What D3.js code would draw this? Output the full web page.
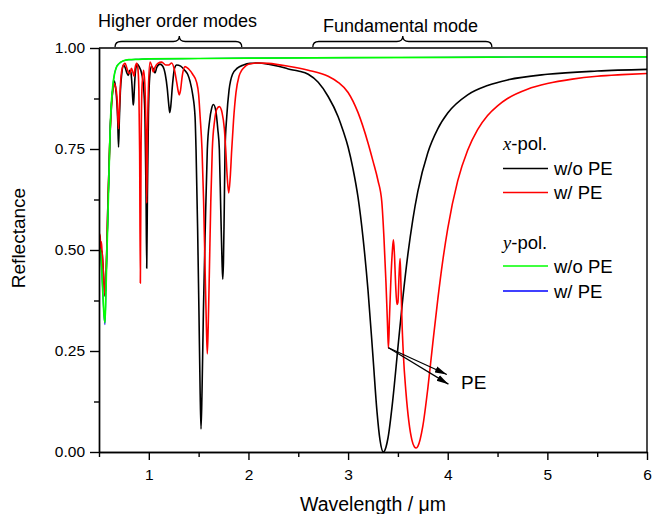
<!DOCTYPE html>
<html><head><meta charset="utf-8">
<script src="https://cdn.jsdelivr.net/npm/d3@7"></script>
<style>body{margin:0;background:#fff}svg{display:block;font-family:"Liberation Sans",Arial,sans-serif}</style>
</head><body><svg id="c" width="653" height="514"></svg>
<script>
// ---- data: [wavelength (um), reflectance] ----
const xPolWoPE = [[0.500,0.505],[0.510,0.515],[0.520,0.500],[0.530,0.495],[0.545,0.440],[0.560,0.385],[0.570,0.430],[0.580,0.520],[0.590,0.620],[0.600,0.700],[0.610,0.780],[0.620,0.835],[0.632,0.880],[0.645,0.905],[0.654,0.918],[0.665,0.905],[0.678,0.870],[0.688,0.820],[0.696,0.755],[0.704,0.820],[0.714,0.890],[0.728,0.935],[0.744,0.958],[0.762,0.952],[0.780,0.938],[0.794,0.932],[0.808,0.945],[0.820,0.940],[0.832,0.905],[0.840,0.870],[0.844,0.859],[0.849,0.870],[0.858,0.915],[0.870,0.950],[0.882,0.960],[0.900,0.955],[0.930,0.935],[0.950,0.895],[0.962,0.820],[0.972,0.640],[0.979,0.455],[0.986,0.640],[0.996,0.830],[1.008,0.925],[1.025,0.955],[1.045,0.948],[1.062,0.938],[1.080,0.952],[1.112,0.960],[1.140,0.955],[1.165,0.935],[1.185,0.900],[1.200,0.860],[1.210,0.840],[1.220,0.855],[1.238,0.910],[1.258,0.950],[1.279,0.958],[1.320,0.955],[1.360,0.945],[1.390,0.935],[1.414,0.917],[1.440,0.885],[1.464,0.830],[1.474,0.748],[1.490,0.550],[1.503,0.350],[1.515,0.150],[1.524,0.057],[1.534,0.150],[1.548,0.350],[1.566,0.550],[1.587,0.748],[1.610,0.820],[1.630,0.850],[1.648,0.860],[1.672,0.845],[1.692,0.800],[1.708,0.748],[1.722,0.600],[1.735,0.470],[1.742,0.428],[1.749,0.470],[1.757,0.600],[1.765,0.748],[1.782,0.830],[1.805,0.895],[1.840,0.935],[1.888,0.950],[1.950,0.958],[2.016,0.962],[2.100,0.963],[2.200,0.960],[2.300,0.955],[2.400,0.948],[2.500,0.943],[2.600,0.935],[2.700,0.915],[2.800,0.880],[2.900,0.830],[2.950,0.795],[3.000,0.755],[3.050,0.700],[3.100,0.630],[3.150,0.530],[3.200,0.400],[3.250,0.235],[3.290,0.100],[3.320,0.030],[3.354,0.000],[3.380,0.012],[3.400,0.034],[3.450,0.132],[3.500,0.258],[3.550,0.382],[3.600,0.489],[3.650,0.576],[3.700,0.645],[3.800,0.741],[3.900,0.800],[4.000,0.839],[4.200,0.884],[4.400,0.907],[4.600,0.921],[5.000,0.935],[5.500,0.943],[6.000,0.947]];

const xPolWPE = [[0.500,0.520],[0.505,0.540],[0.511,0.535],[0.518,0.505],[0.523,0.520],[0.530,0.500],[0.545,0.440],[0.560,0.389],[0.570,0.430],[0.580,0.520],[0.590,0.620],[0.600,0.700],[0.610,0.780],[0.620,0.835],[0.632,0.880],[0.645,0.905],[0.652,0.912],[0.665,0.905],[0.680,0.880],[0.696,0.800],[0.706,0.860],[0.718,0.920],[0.735,0.952],[0.761,0.962],[0.780,0.950],[0.798,0.938],[0.811,0.937],[0.825,0.950],[0.840,0.940],[0.852,0.930],[0.862,0.950],[0.878,0.962],[0.890,0.950],[0.900,0.900],[0.908,0.740],[0.915,0.418],[0.922,0.740],[0.932,0.905],[0.948,0.945],[0.962,0.900],[0.972,0.780],[0.979,0.616],[0.986,0.780],[0.996,0.900],[1.012,0.965],[1.030,0.955],[1.045,0.941],[1.062,0.952],[1.090,0.962],[1.129,0.965],[1.170,0.958],[1.200,0.958],[1.229,0.963],[1.255,0.948],[1.280,0.915],[1.295,0.893],[1.306,0.884],[1.318,0.895],[1.335,0.930],[1.363,0.954],[1.400,0.948],[1.440,0.935],[1.480,0.915],[1.500,0.885],[1.515,0.830],[1.534,0.748],[1.550,0.620],[1.565,0.450],[1.578,0.310],[1.587,0.243],[1.596,0.310],[1.608,0.450],[1.622,0.620],[1.637,0.748],[1.660,0.820],[1.685,0.850],[1.708,0.855],[1.735,0.840],[1.758,0.800],[1.772,0.748],[1.787,0.680],[1.802,0.641],[1.817,0.680],[1.832,0.748],[1.850,0.820],[1.875,0.890],[1.905,0.930],[1.933,0.945],[1.970,0.955],[2.000,0.960],[2.100,0.963],[2.200,0.962],[2.400,0.955],[2.600,0.945],[2.800,0.930],[2.900,0.915],[3.000,0.890],[3.100,0.840],[3.200,0.765],[3.250,0.720],[3.300,0.672],[3.338,0.620],[3.360,0.530],[3.380,0.420],[3.395,0.320],[3.405,0.257],[3.415,0.330],[3.430,0.430],[3.445,0.500],[3.455,0.525],[3.465,0.490],[3.478,0.410],[3.490,0.365],[3.500,0.370],[3.512,0.440],[3.522,0.479],[3.530,0.420],[3.540,0.330],[3.555,0.240],[3.580,0.150],[3.610,0.075],[3.640,0.030],[3.665,0.013],[3.683,0.010],[3.700,0.014],[3.750,0.064],[3.800,0.157],[3.850,0.269],[3.900,0.377],[3.950,0.473],[4.000,0.553],[4.100,0.671],[4.200,0.747],[4.300,0.798],[4.400,0.833],[4.500,0.857],[4.600,0.875],[4.800,0.898],[5.000,0.912],[5.250,0.923],[5.500,0.930],[5.750,0.934],[6.000,0.937]];

const yPolWoPE = [[0.500,0.500],[0.506,0.505],[0.512,0.500],[0.520,0.480],[0.535,0.410],[0.550,0.340],[0.560,0.320],[0.570,0.400],[0.580,0.500],[0.587,0.558],[0.595,0.640],[0.603,0.715],[0.612,0.800],[0.622,0.855],[0.638,0.905],[0.655,0.935],[0.671,0.950],[0.700,0.961],[0.740,0.968],[0.800,0.971],[0.900,0.972],[1.000,0.973],[1.500,0.974],[2.000,0.975],[3.000,0.976],[4.000,0.977],[5.000,0.978],[6.000,0.978]];

const yPolWPE = [[0.500,0.500],[0.506,0.505],[0.512,0.500],[0.520,0.480],[0.535,0.410],[0.550,0.338],[0.560,0.315],[0.570,0.398],[0.580,0.500],[0.587,0.558],[0.595,0.640],[0.603,0.715],[0.612,0.800],[0.622,0.855],[0.638,0.905],[0.655,0.935],[0.671,0.950],[0.700,0.961],[0.740,0.968],[0.800,0.971],[0.900,0.972],[1.000,0.973],[1.500,0.974],[2.000,0.975],[3.000,0.976],[4.000,0.977],[5.000,0.978],[6.000,0.978]];

const xTicks = [1, 2, 3, 4, 5, 6];
const xMinorTicks = [0.5, 1.5, 2.5, 3.5, 4.5, 5.5];
const yTicks = [0, 0.25, 0.5, 0.75, 1.0];
const yMinorTicks = [0.125, 0.375, 0.625, 0.875];

const series = [
  {name: "xWoPE", data: xPolWoPE, color: "#000000", w: 1.6},
  {name: "xWPE",  data: xPolWPE,  color: "#ff0000", w: 1.6},
  {name: "yWPE",  data: yPolWPE,  color: "#0000ff", w: 1.1},
  {name: "yWoPE", data: yPolWoPE, color: "#00ff00", w: 1.7}
];
// brace annotations: [start, tip, end] in um
const braces = [
  {label: "Higher order modes", range: [0.661, 1.306, 1.933]},
  {label: "Fundamental mode",  range: [2.646, 3.549, 4.443]}
];
// PE arrows: from [um, R] to [um, R]
const peArrows = [
  [[3.405, 0.258], [3.991, 0.192]],
  [[3.405, 0.258], [4.007, 0.168]]
];

// ---- drawing ----
const svg = d3.select("#c");
const x = d3.scaleLinear().domain([0.5, 6]).range([99, 647]);
const y = d3.scaleLinear().domain([0, 1]).range([452, 48]);

svg.append("defs").append("clipPath").attr("id", "clip")
  .append("rect").attr("x", 99).attr("y", 44).attr("width", 548).attr("height", 410);
const marker = svg.select("defs").append("marker").attr("id", "arr")
  .attr("viewBox", "0 -4 12 8").attr("refX", 12).attr("refY", 0)
  .attr("markerWidth", 12).attr("markerHeight", 8).attr("markerUnits", "userSpaceOnUse")
  .attr("orient", "auto");
marker.append("path").attr("d", "M0,-3.2L12,0L0,3.2Z").attr("fill", "#000");

const line = d3.line().x(d => x(d[0])).y(d => y(d[1])).curve(d3.curveMonotoneX);
const g = svg.append("g").attr("clip-path", "url(#clip)");
series.forEach(s => {
  g.append("path").datum(s.data).attr("d", line)
    .attr("fill", "none").attr("stroke", s.color).attr("stroke-width", s.w)
    .attr("stroke-linejoin", "round");
});

// frame
svg.append("path")
  .attr("d", `M${x(0.5)},${y(1)}H${x(6)}V${y(0)}`)
  .attr("fill", "none").attr("stroke", "#000").attr("stroke-width", 1.4);

function styleAxis(sel) {
  sel.selectAll("path.domain").attr("stroke", "#000").attr("stroke-width", 1.4);
  sel.selectAll(".tick line").attr("stroke", "#000").attr("stroke-width", 1.4);
  sel.selectAll(".tick text").attr("fill", "#000")
    .style("font-family", '"Liberation Sans", Arial, sans-serif').style("font-size", "15.5px");
}
const xa = svg.append("g").attr("transform", `translate(0,${y(0)})`)
  .call(d3.axisBottom(x).tickValues(xTicks).tickSize(8).tickSizeOuter(0).tickPadding(9).tickFormat(d3.format("d")));
styleAxis(xa);
const xm = svg.append("g").attr("transform", `translate(0,${y(0)})`)
  .call(d3.axisBottom(x).tickValues(xMinorTicks).tickSize(5).tickSizeOuter(0).tickFormat(""));
styleAxis(xm);
const ya = svg.append("g").attr("transform", `translate(${x(0.5)},0)`)
  .call(d3.axisLeft(y).tickValues(yTicks).tickSize(9).tickSizeOuter(0).tickPadding(5).tickFormat(d3.format(".2f")));
styleAxis(ya);
const ym = svg.append("g").attr("transform", `translate(${x(0.5)},0)`)
  .call(d3.axisLeft(y).tickValues(yMinorTicks).tickSize(5).tickSizeOuter(0).tickFormat(""));
styleAxis(ym);

// axis titles
svg.append("text").attr("x", 373).attr("y", 511).attr("text-anchor", "middle")
  .style("font-size", "19.5px").text("Wavelength / \u03bcm");
svg.append("text").attr("transform", "translate(25,238) rotate(-90)").attr("text-anchor", "middle")
  .style("font-size", "19px").text("Reflectance");

// braces
braces.forEach(b => {
  const [a, t, e] = b.range.map(x);
  const yb = 47, ym2 = 41.5, yt = 36, r = 6;
  const d = `M${a},${yb}Q${a},${ym2} ${a + r},${ym2}L${t - r},${ym2}Q${t},${ym2} ${t},${yt}` +
            `Q${t},${ym2} ${t + r},${ym2}L${e - r},${ym2}Q${e},${ym2} ${e},${yb}`;
  svg.append("path").attr("d", d).attr("fill", "none").attr("stroke", "#000").attr("stroke-width", 1.3);
});
svg.append("text").attr("x", 98).attr("y", 27).style("font-size", "18px").text(braces[0].label);
svg.append("text").attr("x", 323).attr("y", 32).style("font-size", "18px").text(braces[1].label);

// PE arrows
peArrows.forEach(p => {
  svg.append("line").attr("x1", x(p[0][0])).attr("y1", y(p[0][1]))
    .attr("x2", x(p[1][0])).attr("y2", y(p[1][1]))
    .attr("stroke", "#000").attr("stroke-width", 1.2).attr("marker-end", "url(#arr)");
});
svg.append("text").attr("x", 461).attr("y", 389).style("font-size", "19px").text("PE");

// legend
const leg = svg.append("g").style("font-size", "18.5px");
function polTitle(ty, letter) {
  const t = leg.append("text").attr("x", 503).attr("y", ty);
  t.append("tspan").style("font-family", '"Liberation Serif", "Times New Roman", serif')
    .style("font-style", "italic").text(letter);
  t.append("tspan").text("-pol.");
}
polTitle(150, "x");
polTitle(249, "y");
const legItems = [
  {ly: 168.5, color: "#000000", label: "w/o PE"},
  {ly: 192.5, color: "#ff0000", label: "w/ PE"},
  {ly: 266,   color: "#00ff00", label: "w/o PE"},
  {ly: 291,   color: "#0000ff", label: "w/ PE"}
];
legItems.forEach(it => {
  leg.append("line").attr("x1", 503).attr("x2", 548).attr("y1", it.ly).attr("y2", it.ly)
    .attr("stroke", it.color).attr("stroke-width", 1.6);
  leg.append("text").attr("x", 554).attr("y", it.ly + 6.5).text(it.label);
});
</script></body></html>
